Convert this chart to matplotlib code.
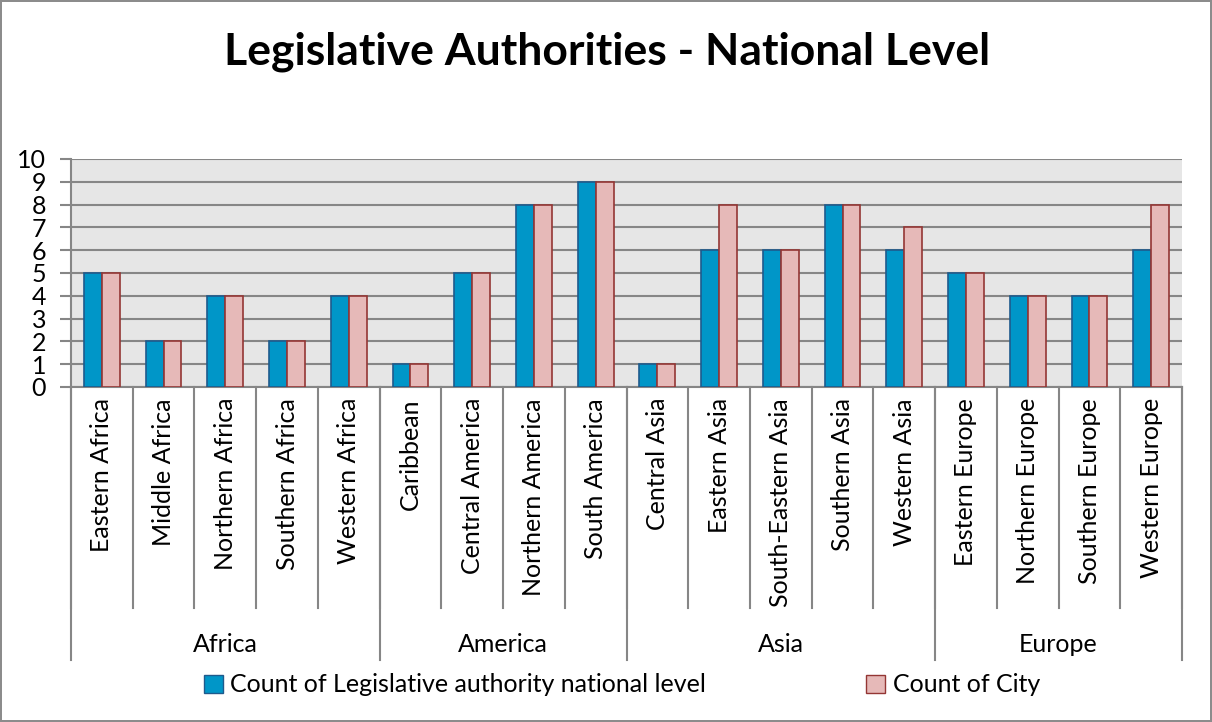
import matplotlib
matplotlib.use("Agg")
import matplotlib.pyplot as plt
from matplotlib.transforms import blended_transform_factory
from matplotlib.patches import Patch

categories = ["Eastern Africa", "Middle Africa", "Northern Africa", "Southern Africa", "Western Africa",
              "Caribbean", "Central America", "Northern America", "South America",
              "Central Asia", "Eastern Asia", "South-Eastern Asia", "Southern Asia", "Western Asia",
              "Eastern Europe", "Northern Europe", "Southern Europe", "Western Europe"]
groups = ["Africa", "America", "Asia", "Europe"]
group_sizes = [5, 4, 5, 4]
legislative = [5, 2, 4, 2, 4, 1, 5, 8, 9, 1, 6, 6, 8, 6, 5, 4, 4, 6]
city = [5, 2, 4, 2, 4, 1, 5, 8, 9, 1, 8, 6, 8, 7, 5, 4, 4, 8]
series_names = ["Count of Legislative authority national level", "Count of City"]

FONT = "Lato"
FS = 18
W, H = 1212, 722
fig = plt.figure(figsize=(W / 100, H / 100), dpi=100)
fig.patch.set_facecolor("white")
fig.patch.set_edgecolor("#8c8c8c")
fig.patch.set_linewidth(1.5)

x0, x1, y_top, y_bot = 71, 1182, 159, 387
ax = fig.add_axes([x0 / W, (H - y_bot) / H, (x1 - x0) / W, (y_bot - y_top) / H])
ax.set_facecolor("#e6e6e6")

n = len(categories)
idx = list(range(n))
bw = 0.29
blue, blue_edge = "#0096c8", "#1f5a8c"
pink, pink_edge = "#e6b9b8", "#943634"
ax.bar([i - bw / 2 for i in idx], legislative, width=bw, color=blue, edgecolor=blue_edge, linewidth=1.2, zorder=3)
ax.bar([i + bw / 2 for i in idx], city, width=bw, color=pink, edgecolor=pink_edge, linewidth=1.2, zorder=3)

ax.set_xlim(-0.5, n - 0.5)
ax.set_ylim(0, 10)
ax.set_yticks(range(0, 11))
ax.set_yticklabels([str(v) for v in range(0, 11)], fontsize=FS, fontfamily=FONT)
ax.yaxis.grid(True, color="#868686", linewidth=1.5, zorder=0)
ax.set_axisbelow(True)
ax.tick_params(axis="y", length=8, width=1.5, color="#868686", pad=10)
ax.set_xticks([])
for s in ["top", "right"]:
    ax.spines[s].set_visible(False)
for s in ["left", "bottom"]:
    ax.spines[s].set_color("#868686")
    ax.spines[s].set_linewidth(1.5)

trans = blended_transform_factory(ax.transData, ax.transAxes)
h_ax = y_bot - y_top
cat_bottom = -(608 - y_bot) / h_ax
grp_bottom = -(660 - y_bot) / h_ax

# category separators
for b in range(n + 1):
    ax.plot([b - 0.5, b - 0.5], [0, cat_bottom], transform=trans, color="#868686",
            linewidth=1.5, clip_on=False)
# group separators
bounds = [0]
for s in group_sizes:
    bounds.append(bounds[-1] + s)
for b in bounds:
    ax.plot([b - 0.5, b - 0.5], [0, grp_bottom], transform=trans, color="#868686",
            linewidth=1.5, clip_on=False)

# category labels
lab_top = -(398 - y_bot) / h_ax
for i, c in enumerate(categories):
    ax.text(i, lab_top, c, transform=trans, rotation=90, ha="center", va="top",
            fontsize=FS, fontfamily=FONT)
# group labels
grp_y = -(644 - y_bot) / h_ax
for g, a, b in zip(groups, bounds[:-1], bounds[1:]):
    ax.text((a + b - 1) / 2, grp_y, g, transform=trans, ha="center", va="center",
            fontsize=FS, fontfamily=FONT)

fig.text(607 / W, 1 - 52 / H, "Legislative Authorities - National Level", ha="center", va="center",
         fontsize=32, fontweight="bold", fontfamily=FONT)

handles = [Patch(facecolor=blue, edgecolor=blue_edge), Patch(facecolor=pink, edgecolor=pink_edge)]
leg = fig.legend(handles, series_names, loc="center", bbox_to_anchor=(622 / W, 1 - 685 / H), ncol=2,
                 frameon=False, prop={"family": FONT, "size": FS}, handlelength=0.75, handleheight=0.75,
                 handletextpad=0.3, columnspacing=6.4)

fig.savefig("out.png", dpi=100)
